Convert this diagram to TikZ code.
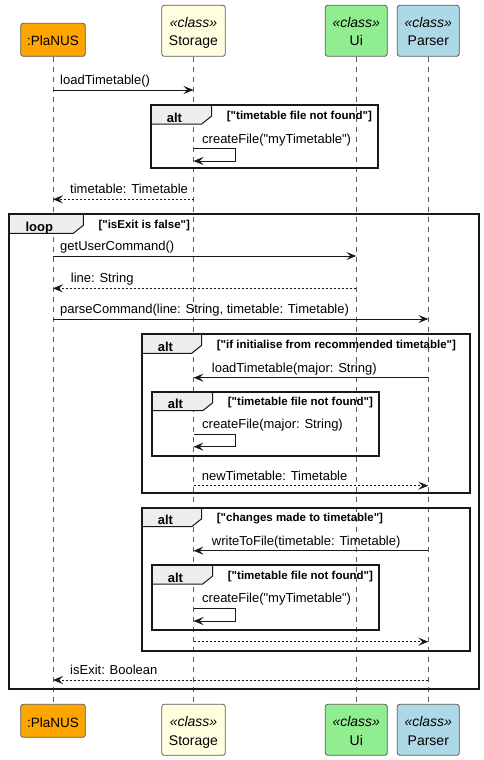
\documentclass[tikz,border=0pt]{standalone}
\usepackage{fontspec}
\setmainfont{Liberation Sans}[Ligatures=TeXOff]
\usetikzlibrary{arrows.meta}
\definecolor{cPlanus}{HTML}{FFA500}
\definecolor{cStorage}{HTML}{FFFFE0}
\definecolor{cUi}{HTML}{90EE90}
\definecolor{cParser}{HTML}{ADD8E6}
\definecolor{cLine}{HTML}{181818}
\definecolor{cBorder}{HTML}{5B5B5B}
\definecolor{cTab}{HTML}{EEEEEE}
\newcommand{\fragment}[8]{%
  % #1 name, #2 L, #3 T, #4 R, #5 B, #6 tab width, #7 label, #8 condition
  \draw[fragtab] (#2,#3) -- ++(#6,0) -- ++(0,11) -- ++(-10,8) -- (#2,#3+19) -- cycle;
  \draw[fragbox] (#2,#3) rectangle (#4,#5);
  \node[fraglabel] (#1l) at (#2+16,#3+17) {#7};
  \node[fragcond] (#1c) at (#2+#6+15,#3+14) {#8};
}
\begin{document}
\begin{tikzpicture}[x=1pt,y=-1pt,
  pbox/.style={draw=cBorder,line width=0.8pt,rounded corners=2.5pt,inner sep=0pt},
  nm/.style={anchor=base,inner sep=0pt,font=\fontsize{14}{16}\selectfont},
  nmp/.style={anchor=base,inner sep=0pt,font=\fontsize{13.5}{16}\selectfont},
  stereo/.style={anchor=base,inner sep=0pt,font=\fontsize{14}{16}\selectfont\itshape},
  lifeline/.style={draw=cBorder,line width=0.8pt,dash pattern=on 5pt off 5pt},
  msg/.style={draw=cLine,line width=1pt,-{Stealth[length=10pt,width=8pt,inset=4pt]}},
  ret/.style={msg,dash pattern=on 2pt off 2pt},
  mlabel/.style={anchor=base west,inner sep=0pt,font=\fontsize{13}{15}\selectfont},
  fragbox/.style={draw=cLine,line width=2pt},
  fragtab/.style={draw=cLine,line width=1pt,fill=cTab},
  fraglabel/.style={anchor=base west,inner sep=0pt,font=\fontsize{13}{15}\selectfont\bfseries},
  fragcond/.style={anchor=base west,inner sep=0pt,font=\fontsize{11.5}{13}\selectfont\bfseries}
]
\useasboundingbox (0,0) rectangle (484,760);
\fill[white] (0,0) rectangle (484,760);

% participants (top)
\node[pbox,fill=cPlanus,minimum width=64.6pt,minimum height=33pt] (planusT) at (53,39.8) {};
\node[nmp] (planusTn) at (53,46) {:PlaNUS};
\node[pbox,fill=cStorage,minimum width=63.6pt,minimum height=51pt] (storageT) at (193.5,30.8) {};
\node[stereo] (storageTs) at (193.5,27.5) {«class»};
\node[nm] (storageTn) at (193.5,45.5) {Storage};
\node[pbox,fill=cUi,minimum width=62pt,minimum height=51pt] (uiT) at (356.3,30.8) {};
\node[stereo] (uiTs) at (356.3,27.5) {«class»};
\node[nm] (uiTn) at (356.3,45.5) {Ui};
\node[pbox,fill=cParser,minimum width=62pt,minimum height=51pt] (parserT) at (428.3,30.8) {};
\node[stereo] (parserTs) at (428.3,27.5) {«class»};
\node[nm] (parserTn) at (428.3,45.5) {Parser};

% participants (bottom)
\node[pbox,fill=cPlanus,minimum width=64.6pt,minimum height=33pt] (planusB) at (53,720.8) {};
\node[nmp] (planusBn) at (53,727) {:PlaNUS};
\node[pbox,fill=cStorage,minimum width=63.6pt,minimum height=51pt] (storageB) at (193.5,729.8) {};
\node[stereo] (storageBs) at (193.5,726.8) {«class»};
\node[nm] (storageBn) at (193.5,745.5) {Storage};
\node[pbox,fill=cUi,minimum width=62pt,minimum height=51pt] (uiB) at (356.3,729.8) {};
\node[stereo] (uiBs) at (356.3,726.8) {«class»};
\node[nm] (uiBn) at (356.3,745.5) {Ui};
\node[pbox,fill=cParser,minimum width=62pt,minimum height=51pt] (parserB) at (428.3,729.8) {};
\node[stereo] (parserBs) at (428.3,726.8) {«class»};
\node[nm] (parserBn) at (428.3,745.5) {Parser};

% lifelines
\draw[lifeline] (planusT.south) -- (planusB.north);
\draw[lifeline] (storageT.south) -- (storageB.north);
\draw[lifeline] (uiT.south) -- (uiB.north);
\draw[lifeline] (parserT.south) -- (parserB.north);

% fragments
\fragment{altA}{150.7}{105}{378.3}{168.3}{61}{alt}{["timetable file not found"]}
\fragment{loop}{9.3}{214.3}{479.3}{689}{74}{loop}{["isExit is false"]}
\fragment{altB}{141.7}{334.3}{470}{493.3}{60}{alt}{["if initialise from recommended timetable"]}
\fragment{altC}{151.7}{391.7}{379.3}{455.7}{61}{alt}{["timetable file not found"]}
\fragment{altD}{141.7}{507.7}{470}{650.7}{60}{alt}{["changes made to timetable"]}
\fragment{altE}{151.7}{565}{379.3}{630}{61}{alt}{["timetable file not found"]}

% message end points
\coordinate (m1a) at (53,90);      \coordinate (m1b) at (193.5,90);
\coordinate (s1a) at (193.5,148.5); \coordinate (s1b) at (235.5,148.5);
\coordinate (s1c) at (235.5,161);   \coordinate (s1d) at (193.5,161);
\coordinate (m2a) at (193.5,199.3); \coordinate (m2b) at (53,199.3);
\coordinate (m3a) at (53,256);      \coordinate (m3b) at (356.3,256);
\coordinate (m4a) at (356.3,288.3); \coordinate (m4b) at (53,288.3);
\coordinate (m5a) at (53,319);      \coordinate (m5b) at (428.3,319);
\coordinate (m6a) at (428.3,377.7); \coordinate (m6b) at (193.5,377.7);
\coordinate (s2a) at (193.5,434.3); \coordinate (s2b) at (235.5,434.3);
\coordinate (s2c) at (235.5,446.7); \coordinate (s2d) at (193.5,446.7);
\coordinate (m7a) at (193.5,485.7); \coordinate (m7b) at (428.3,485.7);
\coordinate (m8a) at (428.3,550.7); \coordinate (m8b) at (193.5,550.7);
\coordinate (s3a) at (193.5,608.3); \coordinate (s3b) at (235.5,608.3);
\coordinate (s3c) at (235.5,621);   \coordinate (s3d) at (193.5,621);
\coordinate (m9a) at (193.5,641.7); \coordinate (m9b) at (428.3,641.7);
\coordinate (m10a) at (428.3,680);  \coordinate (m10b) at (53,680);

% messages
\draw[msg] (m1a) -- (m1b);
\node[mlabel] (l1) at (60,84.5) {loadTimetable()};
\draw[msg] (s1a) -- (s1b) -- (s1c) -- (s1d);
\node[mlabel] (ls1) at (202,143) {createFile("myTimetable")};
\draw[ret] (m2a) -- (m2b);
\node[mlabel] (l2) at (70,193.8) {timetable: Timetable};
\draw[msg] (m3a) -- (m3b);
\node[mlabel] (l3) at (60,250.5) {getUserCommand()};
\draw[ret] (m4a) -- (m4b);
\node[mlabel] (l4) at (70.7,282.8) {line: String};
\draw[msg] (m5a) -- (m5b);
\node[mlabel] (l5) at (60,313.5) {parseCommand(line: String, timetable: Timetable)};
\draw[msg] (m6a) -- (m6b);
\node[mlabel] (l6) at (211.7,372.2) {loadTimetable(major: String)};
\draw[msg] (s2a) -- (s2b) -- (s2c) -- (s2d);
\node[mlabel] (ls2) at (202,428.8) {createFile(major: String)};
\draw[ret] (m7a) -- (m7b);
\node[mlabel] (l7) at (201.7,480.2) {newTimetable: Timetable};
\draw[msg] (m8a) -- (m8b);
\node[mlabel] (l8) at (211.7,545.2) {writeToFile(timetable: Timetable)};
\draw[msg] (s3a) -- (s3b) -- (s3c) -- (s3d);
\node[mlabel] (ls3) at (202,602.8) {createFile("myTimetable")};
\draw[ret] (m9a) -- (m9b);
\draw[ret] (m10a) -- (m10b);
\node[mlabel] (l10) at (70,674.5) {isExit: Boolean};
\end{tikzpicture}
\end{document}
